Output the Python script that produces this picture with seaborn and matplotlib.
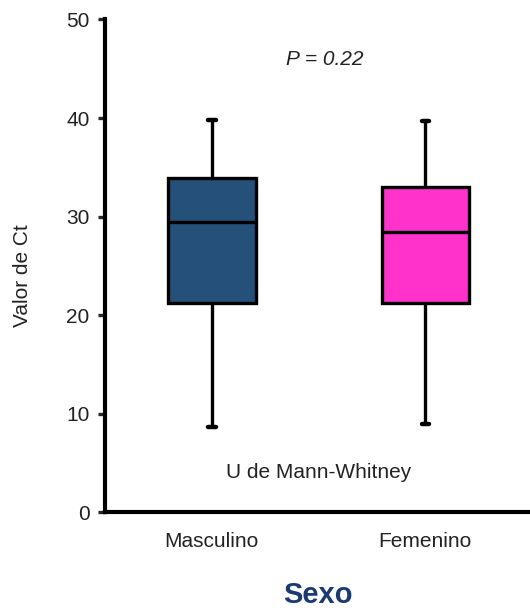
import matplotlib
matplotlib.use("Agg")
import matplotlib.pyplot as plt
import seaborn as sns
import pandas as pd

# Box summaries of Ct values per sex: lower whisker, Q1, median, Q3, upper whisker
groups = ["Masculino", "Femenino"]
masculino_ct = [8.7, 21.2, 29.5, 33.9, 39.8]
femenino_ct = [9.0, 21.2, 28.4, 33.05, 39.75]
box_colors = ["#245079", "#FF33CC"]
y_ticks = [0, 10, 20, 30, 40, 50]
p_text = "P = 0.22"
test_text = "U de Mann-Whitney"

df = pd.DataFrame({
    "Sexo": [groups[0]] * len(masculino_ct) + [groups[1]] * len(femenino_ct),
    "Ct": masculino_ct + femenino_ct,
})

sns.set_style("white")
plt.rcParams["font.family"] = ["Liberation Sans", "DejaVu Sans"]

fig = plt.figure(figsize=(5.3, 6.08), dpi=100)
ax = fig.add_axes([105 / 530, 1 - 512.3 / 608, 1 - 105 / 530, (512.3 - 19.5) / 608])

sns.boxplot(
    data=df, x="Sexo", y="Ct", hue="Sexo", order=groups, hue_order=groups,
    palette=box_colors, saturation=1, width=0.41, whis=(0, 100),
    linecolor="black", linewidth=2.4, legend=False, ax=ax,
)

# short, heavy whisker caps
for line in ax.lines:
    xd = list(line.get_xdata())
    yd = list(line.get_ydata())
    if len(xd) == 2 and yd[0] == yd[1] and abs(xd[1] - xd[0]) < 0.3:
        c = (xd[0] + xd[1]) / 2
        line.set_xdata([c - 0.018, c + 0.018])
        line.set_linewidth(3.2)

ax.set_ylim(0, 50)
ax.set_xlim(-0.5, 1.49)
ax.set_yticks(y_ticks)
ax.set_yticklabels([str(t) for t in y_ticks], fontsize=15, color="#222222")
ax.tick_params(axis="y", length=5, width=2.4, direction="out", pad=6, left=True)
ax.tick_params(axis="x", length=0, pad=14, labelsize=15, labelcolor="#222222")

for side in ["top", "right"]:
    ax.spines[side].set_visible(False)
for side in ["left", "bottom"]:
    ax.spines[side].set_linewidth(3)
    ax.spines[side].set_color("black")

ax.set_ylabel("Valor de Ct", fontsize=15, color="#222222")
ax.yaxis.set_label_coords(-0.172, 0.48)
ax.set_xlabel("Sexo", fontsize=21, fontweight="bold", color="#1B3A70", labelpad=22)

ax.text(0.53, 45.9, p_text, fontsize=15, style="italic", ha="center", va="center", color="#222222")
ax.text(0.5, 4.0, test_text, fontsize=15, ha="center", va="center", color="#222222")

fig.savefig("out.png", dpi=100)
